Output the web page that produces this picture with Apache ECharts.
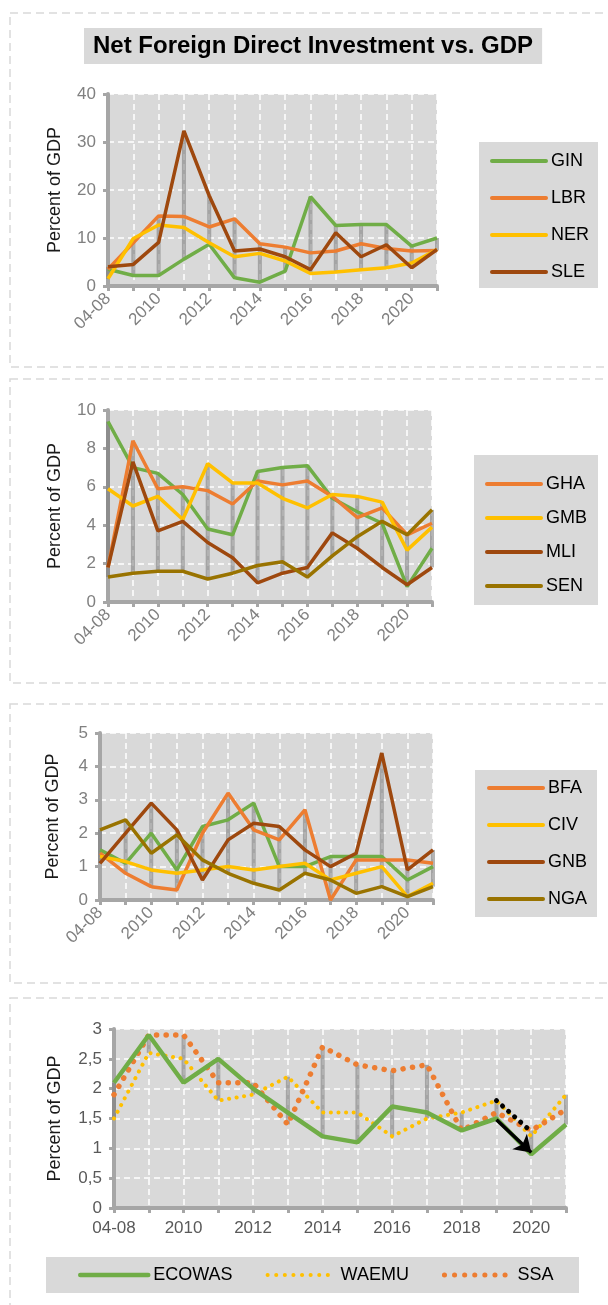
<!DOCTYPE html>
<html><head><meta charset="utf-8">
<script src="https://cdn.jsdelivr.net/npm/echarts@6/dist/echarts.min.js"></script>
<style>html,body{margin:0;padding:0;background:#fff}#c{width:608px;height:1305px}</style>
</head><body><div id="c"></div>
<script>
// ---------- data ----------
const categories = ['04-08','2009','2010','2011','2012','2013','2014','2015','2016','2017','2018','2019','2020','2021'];

// panel 1
const GIN = [3.5, 2.2, 2.2, 5.6, 8.7, 1.7, 0.8, 3.1, 18.6, 12.6, 12.8, 12.8, 8.3, 10.0];
const LBR = [3.5, 9.0, 14.6, 14.5, 12.3, 14.0, 8.8, 8.1, 6.9, 7.3, 8.8, 7.8, 7.3, 7.4];
const NER = [1.5, 9.9, 12.7, 12.2, 9.0, 6.1, 6.8, 5.2, 2.6, 2.9, 3.4, 3.8, 4.8, 7.6];
const SLE = [4.0, 4.5, 9.1, 32.3, 18.8, 7.3, 7.7, 6.1, 3.4, 11.1, 6.1, 8.6, 3.8, 7.6];

// panel 2 (green series has no visible legend entry)
const P2_GREEN = [9.4, 7.0, 6.7, 5.6, 3.8, 3.5, 6.8, 7.0, 7.1, 5.4, 4.7, 4.1, 0.8, 2.8];
const GHA = [1.8, 8.4, 5.9, 6.0, 5.8, 5.1, 6.3, 6.1, 6.3, 5.5, 4.4, 4.9, 3.5, 4.1];
const GMB = [5.9, 5.0, 5.5, 4.3, 7.2, 6.2, 6.2, 5.4, 4.9, 5.6, 5.5, 5.2, 2.7, 3.9];
const MLI = [1.8, 7.3, 3.7, 4.2, 3.1, 2.3, 1.0, 1.5, 1.8, 3.6, 2.8, 1.8, 0.9, 1.8];
const SEN = [1.3, 1.5, 1.6, 1.6, 1.2, 1.5, 1.9, 2.1, 1.3, 2.4, 3.4, 4.2, 3.5, 4.8];

// panel 3 (green series has no visible legend entry)
const P3_GREEN = [1.5, 1.1, 2.0, 0.9, 2.2, 2.4, 2.9, 1.0, 1.0, 1.3, 1.3, 1.3, 0.6, 1.0];
const BFA = [1.4, 0.8, 0.4, 0.3, 2.0, 3.2, 2.1, 1.8, 2.7, 0.0, 1.2, 1.2, 1.2, 1.1];
const CIV = [1.3, 1.15, 0.9, 0.8, 0.9, 1.0, 0.9, 1.0, 1.1, 0.6, 0.8, 1.0, 0.1, 0.5];
const GNB = [1.1, 2.0, 2.9, 2.1, 0.6, 1.8, 2.3, 2.2, 1.5, 1.0, 1.4, 4.4, 0.9, 1.5];
const NGA = [2.1, 2.4, 1.4, 1.95, 1.2, 0.8, 0.5, 0.3, 0.8, 0.6, 0.2, 0.4, 0.1, 0.4];

// panel 4
const ECOWAS = [2.1, 2.9, 2.1, 2.5, 2.0, 1.6, 1.2, 1.1, 1.7, 1.6, 1.3, 1.5, 0.9, 1.4];
const WAEMU  = [1.5, 2.6, 2.5, 1.8, 1.9, 2.2, 1.6, 1.6, 1.2, 1.5, 1.6, 1.8, 1.2, 1.9];
const SSA    = [1.9, 2.9, 2.9, 2.1, 2.1, 1.4, 2.7, 2.4, 2.3, 2.4, 1.3, 1.6, 1.3, 1.65];

// annotations in panel 4 (category, value)
const arrowFrom = ['2019', 1.48], arrowTo = ['2020', 0.93];
const dotFrom = ['2019', 1.8], dotTo = ['2020', 1.28];

// y tick settings
const yTicks = [{max:40, interval:10}, {max:10, interval:2}, {max:5, interval:1}, {max:3, interval:0.5}];

// ---------- styling ----------
const FONT = "'Liberation Sans', Arial, sans-serif";
const C = {green:'#70ad47', orange:'#ed7d31', yellow:'#ffc000', brown:'#9e480e', olive:'#997300'};

const grids = [
  {left:108, top:94,  width:329, height:192},
  {left:108, top:410, width:324, height:192},
  {left:100, top:733, width:333, height:167},
  {left:114, top:1029, width:452, height:179}
];

function hiLo(arrs){
  return categories.map((c,i)=>{
    const v = arrs.map(a=>a[i]);
    return [i, Math.min.apply(null,v), Math.max.apply(null,v)];
  });
}
function hlSeries(idx, arrs){
  return {
    type:'custom', name:'hl'+idx, xAxisIndex:idx, yAxisIndex:idx, z:1, silent:true,
    encode:{x:0, y:[1,2]},
    data: hiLo(arrs),
    renderItem: function(params, api){
      const a = api.coord([api.value(0), api.value(1)]);
      const b = api.coord([api.value(0), api.value(2)]);
      return {type:'line', shape:{x1:a[0],y1:a[1],x2:b[0],y2:b[1]},
        style:{stroke:'rgba(120,120,120,0.55)', lineWidth:4}};
    }
  };
}
function lineS(idx, name, data, color, extra){
  return Object.assign({
    type:'line', name:name, data:data, xAxisIndex:idx, yAxisIndex:idx,
    symbol:'none', z:3, clip:false,
    lineStyle:{color:color, width:3.5}, itemStyle:{color:color},
    emphasis:{disabled:true}
  }, extra||{});
}

const xAxes = grids.map((g,i)=>({
  type:'category', gridIndex:i, data:categories, boundaryGap:false,
  axisLine:{show:true, lineStyle:{color:'#a6a6a6', width:4}},
  axisTick:{show:true, interval:0, length:5, lineStyle:{color:'#a6a6a6', width:3}},
  axisLabel:{interval:1, rotate: i<3 ? 45 : 0, margin: i<3 ? 10 : 12,
    fontFamily:FONT, fontSize:17, color: i<3 ? '#808080' : '#595959'},
  splitLine:{show:true, interval:0, lineStyle:{color:'#ffffff', width:1.5, type:[6,4]}}
}));
const nameGaps = [44, 44, 38, 50];
const yAxes = grids.map((g,i)=>({
  type:'value', gridIndex:i, min:0, max:yTicks[i].max, interval:yTicks[i].interval,
  name:'Percent of GDP', nameLocation:'middle', nameGap:nameGaps[i],
  nameTextStyle:{fontFamily:FONT, fontSize:18, color:'#1a1a1a'},
  axisLine:{show:true, lineStyle:{color:'#a6a6a6', width:4}},
  axisTick:{show:true, length:5, lineStyle:{color:'#a6a6a6', width:3}},
  axisLabel:{margin:12, fontFamily:FONT, fontSize:17, color: i<3 ? '#808080' : '#595959',
    formatter: v => String(v).replace('.', ',')},
  splitLine:{show:true, lineStyle:{color:'#ffffff', width:1.5, type:[6,4]}}
}));

const legendCommon = {
  orient:'vertical', padding:0, itemWidth:54, itemHeight:18, selectedMode:false,
  itemStyle:{opacity:0}, lineStyle:{width:4, cap:'round'},
  textStyle:{fontFamily:FONT, fontSize:18, color:'#000', lineHeight:18}
};
const legends = [
  Object.assign({}, legendCommon, {left:490, top:152, itemGap:19, data:['GIN','LBR','NER','SLE']}),
  Object.assign({}, legendCommon, {left:485, top:475, itemGap:16, data:['GHA','GMB','MLI','SEN']}),
  Object.assign({}, legendCommon, {left:487, top:779, itemGap:19, data:['BFA','CIV','GNB','NGA']}),
  Object.assign({}, legendCommon, {orient:'horizontal', left:78, top:1266, itemWidth:68, itemGap:33,
    lineStyle:{cap:'round'},
    data:[
      {name:'ECOWAS', lineStyle:{width:4.5, cap:'round'}},
      {name:'WAEMU', lineStyle:{width:4, cap:'round', type:[0.1,8.5]}},
      {name:'SSA', lineStyle:{width:5, cap:'round', type:[0.1,10]}}
    ]})
];

function frame(y,h){
  return {type:'rect', shape:{x:10, y:y, width:640, height:h}, silent:true, z:-10,
    style:{fill:'none', stroke:'#d9d9d9', lineWidth:1.5, lineDash:[8,5]}};
}
function box(x,y,w,h){
  return {type:'rect', shape:{x:x, y:y, width:w, height:h}, silent:true, z:-5,
    style:{fill:'#d9d9d9'}};
}

const series = [
  hlSeries(0, [GIN, LBR, NER, SLE]),
  lineS(0,'GIN',GIN,C.green), lineS(0,'LBR',LBR,C.orange), lineS(0,'NER',NER,C.yellow), lineS(0,'SLE',SLE,C.brown),

  hlSeries(1, [P2_GREEN, GHA, GMB, MLI, SEN]),
  lineS(1,'P2 other',P2_GREEN,C.green), lineS(1,'GHA',GHA,C.orange), lineS(1,'GMB',GMB,C.yellow),
  lineS(1,'MLI',MLI,C.brown), lineS(1,'SEN',SEN,C.olive),

  hlSeries(2, [P3_GREEN, BFA, CIV, GNB, NGA]),
  lineS(2,'P3 other',P3_GREEN,C.green), lineS(2,'BFA',BFA,C.orange), lineS(2,'CIV',CIV,C.yellow),
  lineS(2,'GNB',GNB,C.brown), lineS(2,'NGA',NGA,C.olive),

  hlSeries(3, [ECOWAS, WAEMU, SSA]),
  lineS(3,'ECOWAS',ECOWAS,C.green,{lineStyle:{color:C.green, width:4.5}, z:4,
    markLine:{silent:true, symbol:['none','arrow'], symbolSize:16, label:{show:false},
      lineStyle:{color:'#000', width:3.5, type:'solid'},
      emphasis:{disabled:true},
      data:[[{coord:arrowFrom},{coord:arrowTo}]]}}),
  lineS(3,'WAEMU',WAEMU,C.yellow,{lineStyle:{color:C.yellow, width:4, type:[0.1,7.5], cap:'round'},
    markLine:{silent:true, symbol:['none','none'], label:{show:false},
      lineStyle:{color:'#000', width:5, type:[0.1,8], cap:'round'},
      emphasis:{disabled:true},
      data:[[{coord:dotFrom},{coord:dotTo}]]}}),
  lineS(3,'SSA',SSA,C.orange,{lineStyle:{color:C.orange, width:5.5, type:[0.1,9.5], cap:'round'}})
];

const chart = echarts.init(document.getElementById('c'), null, {renderer:'canvas'});
chart.setOption({
  animation:false,
  backgroundColor:'#ffffff',
  title:{text:'Net Foreign Direct Investment vs. GDP', left:84, top:28,
    backgroundColor:'#d9d9d9', padding:[6,9,6,9],
    textStyle:{fontFamily:FONT, fontSize:24, fontWeight:'bold', color:'#000', lineHeight:24}},
  graphic:[
    frame(13,354), frame(379,304), frame(704,279), frame(998,420),
    box(479,142,119,146), box(474,455,124,150), box(475,770,122,147), box(46,1257,533,36)
  ],
  grid: grids.map(g=>Object.assign({show:true, backgroundColor:'#d9d9d9', borderWidth:0,
    containLabel:false, outerBoundsMode:'none'}, g)),
  xAxis: xAxes,
  yAxis: yAxes,
  legend: legends,
  series: series
});
</script></body></html>
